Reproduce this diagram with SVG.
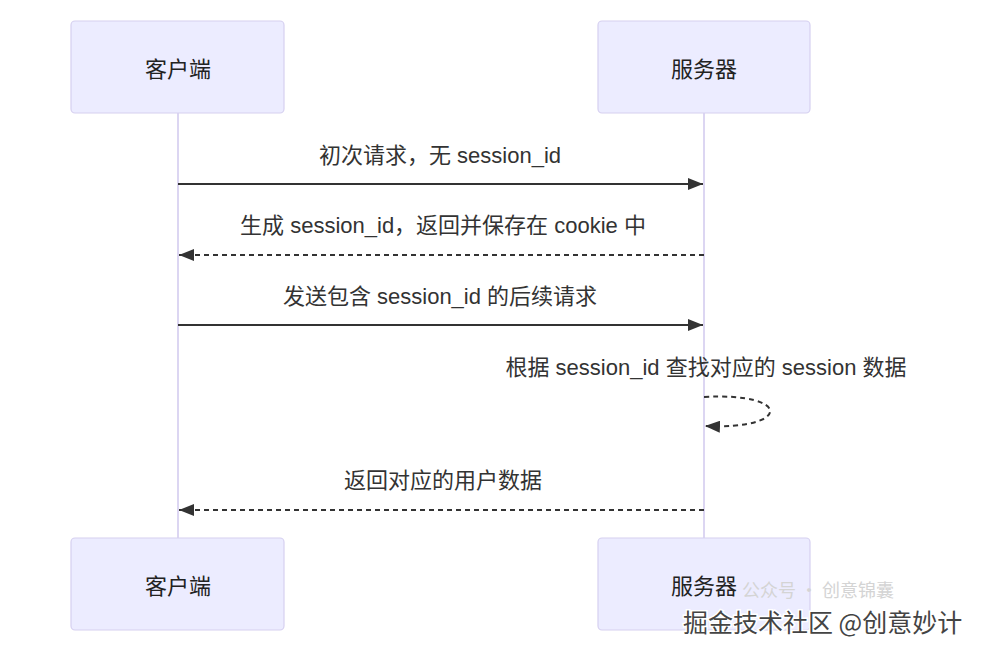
<svg xmlns="http://www.w3.org/2000/svg" width="988" height="653" viewBox="0 0 988 653">
<defs>
<style>
.actor rect{fill:#ECECFF;stroke:#D6D0F0;stroke-width:1.2}
.actor text{font-family:"Noto Sans CJK SC","Liberation Sans",sans-serif;font-size:22px;fill:#222;text-anchor:middle;dominant-baseline:central}
.life{stroke:#DCD6F2;stroke-width:2}
.msg{stroke:#333;stroke-width:2;fill:none}
.dash{stroke-dasharray:5,4}
.lbl{font-family:"Liberation Sans","Noto Sans CJK SC",sans-serif;font-size:22px;fill:#333;text-anchor:middle}
.wm{font-family:"Noto Sans CJK SC",sans-serif}
</style>
<marker id="ah" viewBox="0 0 15 12" refX="15" refY="6" markerWidth="15" markerHeight="12" markerUnits="userSpaceOnUse" orient="auto">
<path d="M0,0 L15,6 L0,12 z" fill="#333"/>
</marker>
</defs>
<rect width="988" height="653" fill="#fff"/>
<g id="lifelines">
<line class="life" x1="178" y1="113" x2="178" y2="538"/>
<line class="life" x1="704" y1="113" x2="704" y2="538"/>
</g>
<g id="client-top" class="actor"><rect x="71" y="21" width="213" height="92" rx="4"/><text x="178" y="67">客户端</text></g>
<g id="server-top" class="actor"><rect x="598" y="21" width="212" height="92" rx="4"/><text x="704" y="67">服务器</text></g>
<g id="client-bottom" class="actor"><rect x="71" y="538" width="213" height="92" rx="4"/><text x="178" y="584">客户端</text></g>
<g id="server-bottom" class="actor"><rect x="598" y="538" width="212" height="92" rx="4"/><text x="704" y="584">服务器</text></g>
<g id="connectors">
<line class="msg" x1="178" y1="184" x2="703" y2="184" marker-end="url(#ah)"/>
<line class="msg dash" x1="704" y1="255" x2="179" y2="255" marker-end="url(#ah)"/>
<line class="msg" x1="178" y1="325" x2="703" y2="325" marker-end="url(#ah)"/>
<path class="msg dash" d="M704,397 C792,392 792,430 705,426" marker-end="url(#ah)"/>
<line class="msg dash" x1="704" y1="510" x2="179" y2="510" marker-end="url(#ah)"/>
</g>
<g id="labels">
<text class="lbl" x="440" y="163">初次请求，无 session_id</text>
<text class="lbl" x="443" y="233">生成 session_id，返回并保存在 cookie 中</text>
<text class="lbl" x="440" y="304">发送包含 session_id 的后续请求</text>
<text class="lbl" x="706" y="375">根据 session_id 查找对应的 session 数据</text>
<text class="lbl" x="443" y="488">返回对应的用户数据</text>
</g>
<g id="watermark">
<text class="wm" x="742" y="597" font-size="18" fill="#d4d4d4">公众号 · 创意锦囊</text>
<text class="wm" x="683" y="632" font-size="25" fill="#444" stroke="#fff" stroke-width="3" paint-order="stroke">掘金技术社区 @创意妙计</text>
</g>
</svg>
